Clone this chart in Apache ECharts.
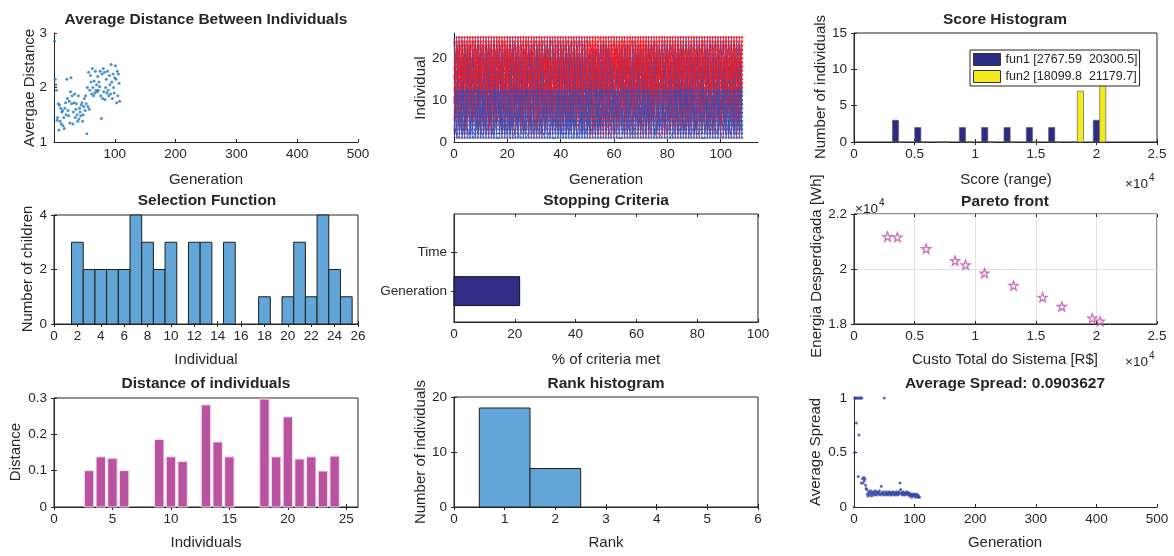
<!DOCTYPE html>
<html><head><meta charset="utf-8">
<script src="https://cdn.jsdelivr.net/npm/echarts@6/dist/echarts.min.js"></script>
<style>html,body{margin:0;padding:0;background:#fff}#c{width:1174px;height:556px}</style>
</head><body><div id="c"></div>
<script>
const FONT = '"Liberation Sans", Arial, sans-serif';
const AX = '#262626';

// ---- data ----
// Average distance between individuals, generations 1..108
const avgDist = [2.85,2.15,2.05,1.95,1.40,1.45,1.70,1.22,1.68,1.38,
 1.62,1.33,1.55,1.58,1.30,1.45,1.25,1.62,1.72,1.50,
 2.15,1.80,1.58,1.48,1.75,1.35,1.92,2.18,1.70,1.85,
 1.33,1.55,1.72,1.88,1.45,1.60,1.70,1.50,1.38,1.85,
 1.42,1.62,1.55,1.48,1.68,1.72,1.38,1.50,1.65,1.80,
 1.58,1.85,1.70,1.15,2.00,1.65,2.28,1.60,1.95,2.22,
 2.10,1.88,2.35,2.00,1.85,2.12,1.90,2.30,1.95,2.05,
 1.92,2.20,1.95,2.10,2.02,2.30,1.85,1.43,2.25,1.80,
 2.35,1.92,2.28,1.78,2.00,2.15,1.90,2.30,1.95,1.85,
 2.22,2.05,1.88,2.42,2.10,1.80,2.25,2.00,1.90,2.18,
 2.40,2.15,1.72,2.30,1.85,2.25,2.08,1.75];

// Genealogy: parent (a=1 .. y=25) of each child 1..25, one row per generation 1..108
const parentRows = [
"kdpax mhfrc ybjgt nesuv lqiwo","bqwel takyg hcnrd vofxm ipsju","mxfcs yhobk ltaeq wgpdj rnviu","gtnya bwkeh qdvsl mxcof rjpiu",
"rhdxm ekuqb yflwa scnti gpovj","vcamj pgxtr oweib dylhk qsnfu","ejsyw nqdcb uamxh klrgp ofvit","xabou tlfsm cvqek hgwdp ynjir",
"qfwkc ibygr madxs oehvp tlunj","lmveq bsrwx aycto hjgdf kpiun","cyotg hqmaf udelj wbxns rkvpi","hpjxd kvafy qsbmr etogn uwcli",
"wurbl agmey cvxjo dfkqs thinp","otkhv ypsdq jncwa lbmgx ruefi","dgxqa ryflp wktub esomc vjnhi","ynscr mlaqt hbxpg dfuwk vejoi",
"abwfm qoxdk sgjuy lhcer tnipv","jvlyi xdrab hwsek pqofn cmgut","sfqcv dowjh ybnla mrxti kepgu","iecno ltfvq ampxg swyhd jurkb",
"mruwx bcgli yakqe dhstf ovnjp","pkeyj wabst mqhco vuxrl dgfni","fwaqo sidxl cyjhu reknb mgtvp","unmgd yebqw xofrk tsajh clvip",
"bxhsp kmyew dacrj ngqtf luvoi","tygjr ahuom qsxdi bkfcw pnevl","egvkb xlpat rqymd hcsjw oufin","nadwy fqcsr ehbxm kjvlo tgpiu",
"kyqmf djtbs wxoae gvurh pnlci","gsbtx nawiq flhcj ymerk duovp","qhyea ctlgr mxwbk dsnjf puoiv","vdowt ksjym xbqca fnrhe lgpui",
"iyfaq htbnx rwmkc sdogl jeupv","cmlxh yqwes bdjat ufrkg nopiv","yqdkn hexjb wasrf tgvmc ulpio","hbaxs woqfy mktdl cegnr vjupi",
"xwtpd yalgq kbens fjmho ruciv","aejmy dxrkq cwhbs ltgfn uopiv","rgxwc ymqdk ajtsb hnflp voeiu","ltywq axrbh kfmgs cdejn opuiv",
"dxqmh ayrwk fbtsl ocgjn vepiu","wbsyk jqaxm dtlfr cnhgo pveiu","ogdwy xtqak bsrhm jclfe unpiv","yhqtc kaxwd sbmfr lgjen opvui",
"makxs yqwbd hteof rjgcl nupiv","tyfwq dahxb srmkc eljgn oupiv","bsxda wyqkm hrtfl jgcon epviu","kxwya mdqbt srhfj clgne upoiv",
"fywqm sxabk dtrhl oejcg npuvi","xqbyw ahmks dfrtl jcgon eupiv","pnemy tgcrf axkdj bwohl sqiuv","eujvc rsoqg lpxay bmdhf wkitn",
"ukfod bgjtr vnmye xqawh slcpi","nvrli pmeaq ukdsh yjxbc fotwg","jlhvp rbcxu fkgwe aqmdt sioyn","xwgdo qhvjs cnrfb mylak pteui",
"vpqsn ogeix rkhwa bytjd cmflu","qrhcj xfwgu mvbnk seyal dotpi","ckgyu mqlfe rwxsb opdjn vaith","sotfb jyhqd gnclx avekm riwup",
"gcmtn sijbl dkpvy whfax uoerq","oqdlk gwyhr pmtxc fvans ejbui","ayjrs wfbkl nqvct hdxmg ieopu","htpbq adwgv lrejx msckn yfoiu",
"rkwnb flumj ygtso xedqh aivcp","mejcv hrxdb koqst wgnyf lpaiu","jsaer wbnlt qxchk pgomd vfyiu","dfxvq kgmpe wrhbj syncl taoiu",
"tbnlg exysj haqkw cvdmr oifpu","wiuqr dcfvk ogenb sxtal yjmhp","fvgdj uhnoq tcsye bxrlm kawip","lnbsh vxpmf gewat ckdqy jruoi",
"sqwtu fmhgr cbjxv anely dopik","hdkmx nsgyr ewvbq jlaft cuopi","upwjr qtgdn yhcol mbfkx avesi","cjrab ydqws vmkeg xfhnl otpiu",
"xwsnm hfcgb urkdy tljqa veopi","bgldy ecwkf xnqhr jmsta uvopi","nshck pdvxw fgqeu lmabt jyroi","geyqf rxlhs ckjdm nuawt bvopi",
"vmtgb jwyhq ldxcs fnkae rupoi","ralwx sefpj kgbud chmny otvqi","iqbkd mtsyl uaxhw vrcfg pnejo","kxvpn ghejr swyad btqmc ulofi",
"ydfgt lquwn braex hmscj kvopi","qmncl xfshv aydkt jgwbr euopi","ewjxq bryma hngfd ltcsk vuopi","tlqrm wxgbc yjahv denfk suopi",
"dnhyv qasxk mcgfr btwej luopi","owxbf rkmhs ltdyj gcnaq euvip","hgtkb yxadf sqmwr ncvle jupoi","fbyms dhqgx kwjct avnre louip",
"lxcjh nteyq rwbam gsdkf vpuoi","aqrgw kycsb hmdxn ltjfe vpoiu","syvlc bmhxa gqwkn rdjte fupoi","jkdxq tgsaw ymbcl herfn uvpio",
"wmcpg anxfh dlyst rbkqj eviuo","gsxny khjqa ctmdw lrfbe uovip","ncbrt wfylq hxdag smjke pvoiu","yrkwh gaqcb ldsnx mtjfe vuipo",
"bjfxs ymwhk rtqcd agnle vuiop","mdhqw lcybr sxgka tjfne opviu","qxnda fswgm ckhyl bterj vuoip","ecktm yrxlb adwgq hsnjf ouvpi",
"rysvn cjxhd wqamb ktlge fuiop","kfaqw xmhrc btdys gnlej voupi","xtlgy dqcrm kwnab hsfej uviop","hwndb sgxrk yqmac ltfje voiup"];
const crossoverChildren = 12; // children 1..12 crossover (blue), rest mutation (red)

// Score histogram
const scoreBinCenters = [3688, 5529, 7370, 9211, 11052, 12894, 14735, 16576, 18417, 20258];
const fun1Counts = [3, 2, 0, 2, 2, 2, 2, 2, 0, 3];
const fun2Counts = [0, 0, 0, 0, 0, 0, 0, 0, 7, 11];
const fun1Name = 'fun1 [2767.59  20300.5]';
const fun2Name = 'fun2 [18099.8  21179.7]';

// Selection function: number of children per individual 1..25
const selCounts = [0,3,2,2,2,2,4,3,2,3,0,3,3,0,3,0,0,1,0,1,3,1,4,2,1];

// Stopping criteria (% met)
const stopNames = ['Generation', 'Time'];
const stopValues = [21.6, 0];

// Pareto front
const paretoX = [2767.59, 3580, 5950, 8340, 9200, 10770, 13160, 15560, 17150, 19660, 20300.5];
const paretoY = [21179.7, 21160, 20735, 20300, 20150, 19850, 19400, 18970, 18640, 18210, 18099.8];

// Distance of individuals 1..25
const distVals = [0,0,0.100,0.138,0.134,0.100,0,0,0.186,0.138,0.125,0,0.281,0.179,0.138,0,0,0.297,0.138,0.248,0.132,0.138,0.099,0.140,0];

// Rank histogram
const rankCounts = [18, 7, 0, 0, 0];

// Average spread, generations 0..108
const spreadVals = [0,
 1,1,1,0.77,1,1,0.28,0.66,1,1,
 1,0.22,1,0.26,0.22,0.27,0.24,0.26,0.20,0.17,
 0.16,0.12,0.10,0.14,0.11,0.13,0.15,0.12,0.10,0.14,
 0.12,0.13,0.11,0.14,0.15,0.12,0.11,0.13,0.14,0.12,
 0.13,0.15,0.11,0.12,0.19,0.13,0.12,0.14,0.11,1.0,
 0.13,0.12,0.14,0.11,0.12,0.13,0.12,0.14,0.11,0.13,
 0.12,0.13,0.11,0.14,0.12,0.13,0.12,0.11,0.13,0.14,
 0.12,0.11,0.13,0.14,0.12,0.22,0.16,0.13,0.12,0.11,
 0.14,0.13,0.12,0.11,0.13,0.12,0.14,0.13,0.11,0.12,
 0.13,0.10,0.12,0.11,0.09,0.12,0.10,0.11,0.12,0.10,
 0.11,0.09,0.12,0.10,0.11,0.09,0.10,0.09];
const spreadExtra = [[1, 0.5]];

// ---- build ----
const grids = [
 {left:54, top:33, width:304, height:109, box:false},
 {left:454, top:33, width:304, height:109, box:false},
 {left:854, top:33, width:303, height:109, box:true},
 {left:54, top:215, width:304, height:109, box:true},
 {left:454, top:214, width:304, height:108, box:true},
 {left:854, top:214, width:303, height:110, box:true},
 {left:54, top:398, width:304, height:109, box:true},
 {left:454, top:397, width:304, height:110, box:true},
 {left:854, top:398, width:303, height:109, box:false}
];
const TICKFS = 13.5;

function axis(dim, gi, o) {
  const a = {
    type:'value', gridIndex:gi, min:o.min, max:o.max,
    axisLine:{show:true, onZero:false, lineStyle:{color:AX, width:1}},
    axisTick:{show:true, inside:true, length:3, lineStyle:{color:AX}},
    axisLabel:{show:true, color:AX, fontSize:TICKFS, fontFamily:FONT, margin:o.margin||(dim==='x'?5:7)},
    splitLine:{show:!!o.grid, lineStyle:{color:'#e3e3e3', width:1}}
  };
  if (o.interval != null) a.interval = o.interval;
  if (o.custom) { a.axisLabel.customValues = o.custom; a.axisTick.customValues = o.custom; }
  if (o.fmt) a.axisLabel.formatter = o.fmt;
  if (o.mirror) {
    a.position = dim==='x' ? 'top' : 'right';
    a.axisLine = {show:false};
    a.axisLabel = {show:false};
    a.splitLine = {show:false};
  }
  return a;
}
const e4 = v => String(+(v/1e4).toFixed(2));
const xSpec = [
  {min:0,max:500,custom:[100,200,300,400,500]},
  {min:0,max:114,custom:[0,20,40,60,80,100]},
  {min:0,max:25000,interval:5000,fmt:e4},
  {min:0,max:26,interval:2},
  {min:0,max:100,interval:20},
  {min:0,max:25000,interval:5000,fmt:e4,grid:true},
  {min:0,max:26,custom:[0,5,10,15,20,25]},
  {min:0,max:6,interval:1},
  {min:0,max:500,interval:100}
];
const ySpec = [
  {min:1,max:3,interval:1},
  {min:0,max:26,custom:[0,10,20]},
  {min:0,max:15,interval:5},
  {min:0,max:4,interval:2},
  {min:0.2,max:3,custom:[1,2],fmt:v=>stopNames[Math.round(v)-1]||''},
  {min:18000,max:22000,interval:2000,fmt:e4,grid:true},
  {min:0,max:0.3,interval:0.1},
  {min:0,max:20,interval:10},
  {min:0,max:1,interval:0.5}
];
const xAxes = xSpec.map((s,i)=>axis('x',i,s));
const yAxes = ySpec.map((s,i)=>axis('y',i,s));
grids.forEach((g,i)=>{ if (g.box) {
  xAxes.push(axis('x',i,Object.assign({},xSpec[i],{mirror:true,grid:false})));
  yAxes.push(axis('y',i,Object.assign({},ySpec[i],{mirror:true,grid:false})));
}});

function rectSeries(gi, data, fill, stroke, lw, name) {
  return {
    type:'custom', name:name, xAxisIndex:gi, yAxisIndex:gi, silent:true, animation:false,
    itemStyle:{color:fill, borderColor:stroke, borderWidth:lw},
    data:data,
    renderItem:function(params, api){
      const p0 = api.coord([api.value(0), api.value(2)]);
      const p1 = api.coord([api.value(1), api.value(3)]);
      return {type:'rect', shape:{x:Math.min(p0[0],p1[0]), y:Math.min(p0[1],p1[1]), width:Math.abs(p1[0]-p0[0]), height:Math.abs(p1[1]-p0[1])},
        style:{fill:fill, stroke:stroke, lineWidth:lw}};
    }
  };
}

const BLUE = '#3a4db3', RED = '#ee1c24';
const series = [];
// P1
series.push({type:'scatter', xAxisIndex:0, yAxisIndex:0, symbolSize:3, itemStyle:{color:'#1f77c4'}, silent:true, animation:false,
  data: avgDist.map((v,i)=>[i+1, v])});
// P2 genealogy
const genLines=[], bluePts=[], redPts=[];
parentRows.forEach((row, k) => {
  const g = k+1;
  const letters = row.replace(/[^a-z]/g,'');
  const n = letters.length;
  // interleave crossover and mutation children so neither colour is always on top
  const order = [];
  for (let j=0;j<Math.max(crossoverChildren, n-crossoverChildren);j++){
    if (j < crossoverChildren && j < n) order.push(j);
    if (crossoverChildren + j < n) order.push(crossoverChildren + j);
  }
  if (k % 2) order.reverse();
  order.forEach(i => {
    const child = i+1;
    const p = Math.min(25, letters.charCodeAt(i)-96);
    const blue = child <= crossoverChildren;
    genLines.push({coords:[[g-1,p],[g,child]], lineStyle:{color: blue?BLUE:RED}});
    (blue?bluePts:redPts).push([g,child]);
  });
});
series.push({type:'scatter', xAxisIndex:1, yAxisIndex:1, symbolSize:2.5, itemStyle:{color:BLUE}, silent:true, animation:false, data:bluePts});
series.push({type:'scatter', xAxisIndex:1, yAxisIndex:1, symbolSize:2.5, itemStyle:{color:RED}, silent:true, animation:false, data:redPts});
series.push({type:'lines', coordinateSystem:'cartesian2d', xAxisIndex:1, yAxisIndex:1, polyline:false, large:false, silent:true, animation:false,
  lineStyle:{width:0.8, opacity:0.9}, data:genLines});
// P3 score histogram
series.push(rectSeries(2, scoreBinCenters.map((c,i)=>[c-520, c-10, 0, fun1Counts[i]]), '#2b2a85', '#666', 0.7, fun1Name));
series.push(rectSeries(2, scoreBinCenters.map((c,i)=>[c+10, c+520, 0, fun2Counts[i]]), '#f2ea1c', '#666', 0.7, fun2Name));
// P4 selection
series.push(rectSeries(3, selCounts.map((v,i)=>[i+0.5, i+1.5, 0, v]).filter(d=>d[3]>0), '#62a6d8', '#1f1f1f', 1));
// P5 stopping
series.push(rectSeries(4, stopValues.map((v,i)=>[0, v, i+1-0.375, i+1+0.375]).filter(d=>d[1]>0), '#2f2d86', '#111', 1));
// P6 pareto
const starPath = 'path://M0,-10L2.35,-3.24L9.51,-3.09L3.8,1.24L5.88,8.09L0,4L-5.88,8.09L-3.8,1.24L-9.51,-3.09L-2.35,-3.24Z';
series.push({type:'scatter', xAxisIndex:5, yAxisIndex:5, symbol:starPath, symbolSize:9, silent:true, animation:false,
  itemStyle:{color:'rgba(255,255,255,0)', borderColor:'#c04aa6', borderWidth:1.3},
  data: paretoX.map((x,i)=>[x, paretoY[i]])});
// P7 distance
series.push(rectSeries(6, distVals.map((v,i)=>[i+1-0.4, i+1+0.4, 0, v]).filter(d=>d[3]>0), '#b9529f', '#f3dcec', 1));
// P8 rank
series.push(rectSeries(7, rankCounts.map((v,i)=>[i+0.5, i+1.5, 0, v]).filter(d=>d[3]>0), '#62a6d8', '#1f1f1f', 1));
// P9 spread
series.push({type:'scatter', xAxisIndex:8, yAxisIndex:8, symbolSize:3, itemStyle:{color:'#3447a6'}, silent:true, animation:false,
  data: spreadVals.map((v,i)=>[i, v]).concat(spreadExtra)});

// text elements
function txt(x, y, text, font, rot, align) {
  return {type:'text', x:x, y:y, rotation:rot||0, silent:true, z:100,
    style:{text:text, font:font, fill:AX, align:align||'center', verticalAlign:'middle', textAlign:align||'center', textVerticalAlign:'middle'}};
}
const TF = 'bold 15.5px "Liberation Sans"';
const LF = '15px "Liberation Sans"';
const SF = '13.5px "Liberation Sans"';
const EF = '10px "Liberation Sans"';
const R = Math.PI/2;
const graphics = [
  txt(206, 20, 'Average Distance Between Individuals', TF),
  txt(1005, 20, 'Score Histogram', TF),
  txt(207, 201, 'Selection Function', TF),
  txt(606, 201, 'Stopping Criteria', TF),
  txt(1005, 202, 'Pareto front', TF),
  txt(206, 384, 'Distance of individuals', TF),
  txt(606, 384, 'Rank histogram', TF),
  txt(1005, 384, 'Average Spread: 0.0903627', TF),
  txt(206, 180, 'Generation', LF), txt(30, 88, 'Avergae Distance', LF, R),
  txt(606, 180, 'Generation', LF), txt(421, 88, 'Individual', LF, R),
  txt(1006, 180, 'Score (range)', LF), txt(821, 87, 'Number of individuals', LF, R),
  txt(206, 360, 'Individual', LF), txt(28, 269, 'Number of children', LF, R),
  txt(606, 360, '% of criteria met', LF),
  txt(1005, 360, 'Custo Total do Sistema [R$]', LF), txt(817, 266, 'Energia Desperdiçada [Wh]', LF, R),
  txt(206, 543, 'Individuals', LF), txt(16, 452, 'Distance', LF, R),
  txt(606, 543, 'Rank', LF), txt(421, 452, 'Number of individuals', LF, R),
  txt(1005, 543, 'Generation', LF), txt(816, 452, 'Average Spread', LF, R),
  txt(1125, 184, '×10', SF, 0, 'left'), txt(1149, 178, '4', EF, 0, 'left'),
  txt(1125, 362, '×10', SF, 0, 'left'), txt(1149, 356, '4', EF, 0, 'left'),
  txt(855, 209, '×10', SF, 0, 'left'), txt(879, 203, '4', EF, 0, 'left')
];

const option = {
  animation:false,
  backgroundColor:'#fff',
  grid: grids.map(g=>({left:g.left, top:g.top, width:g.width, height:g.height, containLabel:false,
     show:g.box, borderColor:AX, borderWidth:1, backgroundColor:'transparent'})),
  xAxis:xAxes, yAxis:yAxes, series:series, graphic:graphics,
  legend:{show:true, left:970, top:50, orient:'vertical', itemWidth:27, itemHeight:12, itemGap:4,
    padding:[3,2,3,3], backgroundColor:'#fff', borderColor:AX, borderWidth:1, borderRadius:0, selectedMode:false, z:50,
    textStyle:{fontSize:12.5, color:AX, fontFamily:FONT},
    data:[{name:fun1Name, icon:'rect', itemStyle:{color:'#2b2a85', borderColor:'#333', borderWidth:1}},
          {name:fun2Name, icon:'rect', itemStyle:{color:'#f2ea1c', borderColor:'#333', borderWidth:1}}]}
};
const chart = echarts.init(document.getElementById('c'), null, {renderer:'canvas'});
chart.setOption(option);
</script></body></html>
